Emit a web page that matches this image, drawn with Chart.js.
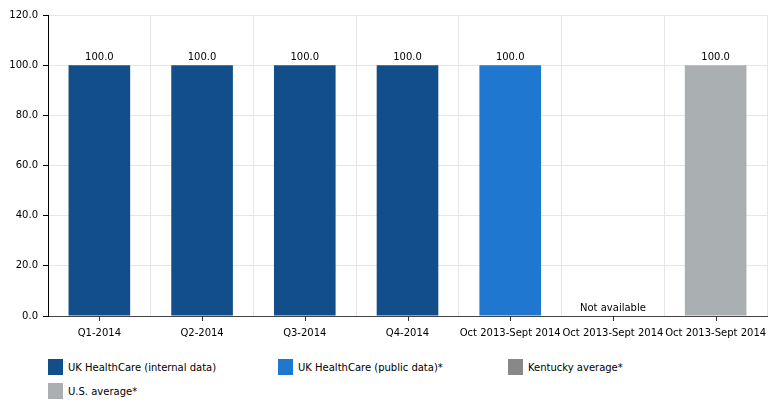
<!DOCTYPE html>
<html>
<head>
<meta charset="utf-8">
<script src="https://cdn.jsdelivr.net/npm/chart.js@4/dist/chart.umd.min.js"></script>
<style>
  html, body { margin: 0; padding: 0; background: #fff; }
  #wrap { position: relative; width: 779px; height: 403px; font-family: "DejaVu Sans", Verdana, sans-serif; }
  #c { position: absolute; left: 0; top: 0; }
  .lg { position: absolute; font-size: 10px; color: #000; display: flex; align-items: center; white-space: nowrap; }
  .sw { width: 15px; height: 16px; margin-right: 5px; display: inline-block; }
</style>
</head>
<body>
<div id="wrap">
  <canvas id="c" width="779" height="345"></canvas>
  <div id="legend"></div>
</div>
<script>
const categories = ["Q1-2014", "Q2-2014", "Q3-2014", "Q4-2014", "Oct 2013-Sept 2014", "Oct 2013-Sept 2014", "Oct 2013-Sept 2014"];
const seriesNames = ["UK HealthCare (internal data)", "UK HealthCare (public data)*", "Kentucky average*", "U.S. average*"];
const seriesColors = ["#124e8a", "#1f77d0", "#888888", "#aaafb1"];
const internalData = [100, 100, 100, 100, null, null, null];
const publicData = [null, null, null, null, 100, null, null];
const kentuckyData = [null, null, null, null, null, null, null];
const usData = [null, null, null, null, null, null, 100];
const notes = ["", "", "", "", "", "Not available", ""];
const yTicks = [0, 20, 40, 60, 80, 100, 120];

const FONT = '"DejaVu Sans", Verdana, sans-serif';
const FSIZE = 10;
const allSeries = [internalData, publicData, kentuckyData, usData];

const datasets = allSeries.map((d, i) => ({
  label: seriesNames[i],
  data: d,
  backgroundColor: seriesColors[i],
  borderWidth: 0,
  grouped: false,
  barPercentage: 0.6,
  categoryPercentage: 1.0
}));

const labelPlugin = {
  id: 'labels',
  afterDatasetsDraw(chart) {
    const ctx = chart.ctx;
    ctx.save();
    ctx.font = FSIZE + 'px ' + FONT;
    ctx.fillStyle = '#000';
    ctx.textAlign = 'center';
    ctx.textBaseline = 'bottom';
    chart.data.datasets.forEach((ds, di) => {
      const meta = chart.getDatasetMeta(di);
      ds.data.forEach((v, i) => {
        if (v === null || v === undefined) return;
        const el = meta.data[i];
        ctx.fillText(v.toFixed(1), el.x, el.y - 3);
      });
    });
    const xs = chart.scales.x, ys = chart.scales.y;
    notes.forEach((n, i) => {
      if (!n) return;
      ctx.fillText(n, xs.getPixelForValue(i), ys.getPixelForValue(0) - 3);
    });
    ctx.strokeStyle = '#333';
    ctx.lineWidth = 1;
    const yb = Math.round(ys.bottom);
    categories.forEach((c, i) => {
      const x = Math.round(xs.getPixelForValue(i)) + 0.5;
      ctx.beginPath();
      ctx.moveTo(x, yb);
      ctx.lineTo(x, yb + 5);
      ctx.stroke();
    });
    ctx.restore();
  }
};

const chart = new Chart(document.getElementById('c'), {
  type: 'bar',
  data: { labels: categories, datasets },
  options: {
    responsive: false,
    animation: false,
    layout: { padding: { top: 15, right: 12, left: 0, bottom: 0 } },
    plugins: { legend: { display: false }, tooltip: { enabled: false } },
    scales: {
      x: {
        offset: true,
        grid: { offset: true, color: '#e6e6e6', drawTicks: false },
        border: { color: '#444', width: 1 },
        ticks: { color: '#000', font: { family: FONT, size: FSIZE }, padding: 11, autoSkip: false, maxRotation: 0, minRotation: 0 },
        afterFit(s) { s.height = 29; }
      },
      y: {
        min: 0, max: 120,
        afterBuildTicks(s) { s.ticks = yTicks.map(v => ({ value: v })); },
        grid: { color: '#e6e6e6', tickLength: 5, tickColor: '#000' },
        border: { color: '#000', width: 1 },
        ticks: { color: '#000', font: { family: FONT, size: FSIZE }, padding: 5, callback: v => Number(v).toFixed(1) },
        afterFit(s) { s.width = 48; }
      }
    }
  },
  plugins: [labelPlugin]
});

const legend = document.getElementById('legend');
chart.data.datasets.forEach((ds, i) => {
  const item = document.createElement('div');
  item.className = 'lg';
  item.style.left = (48 + (i % 3) * 230) + 'px';
  item.style.top = (359 + Math.floor(i / 3) * 24) + 'px';
  const sw = document.createElement('span');
  sw.className = 'sw';
  sw.style.background = ds.backgroundColor;
  const tx = document.createElement('span');
  tx.textContent = ds.label;
  item.appendChild(sw);
  item.appendChild(tx);
  legend.appendChild(item);
});
</script>
</body>
</html>
